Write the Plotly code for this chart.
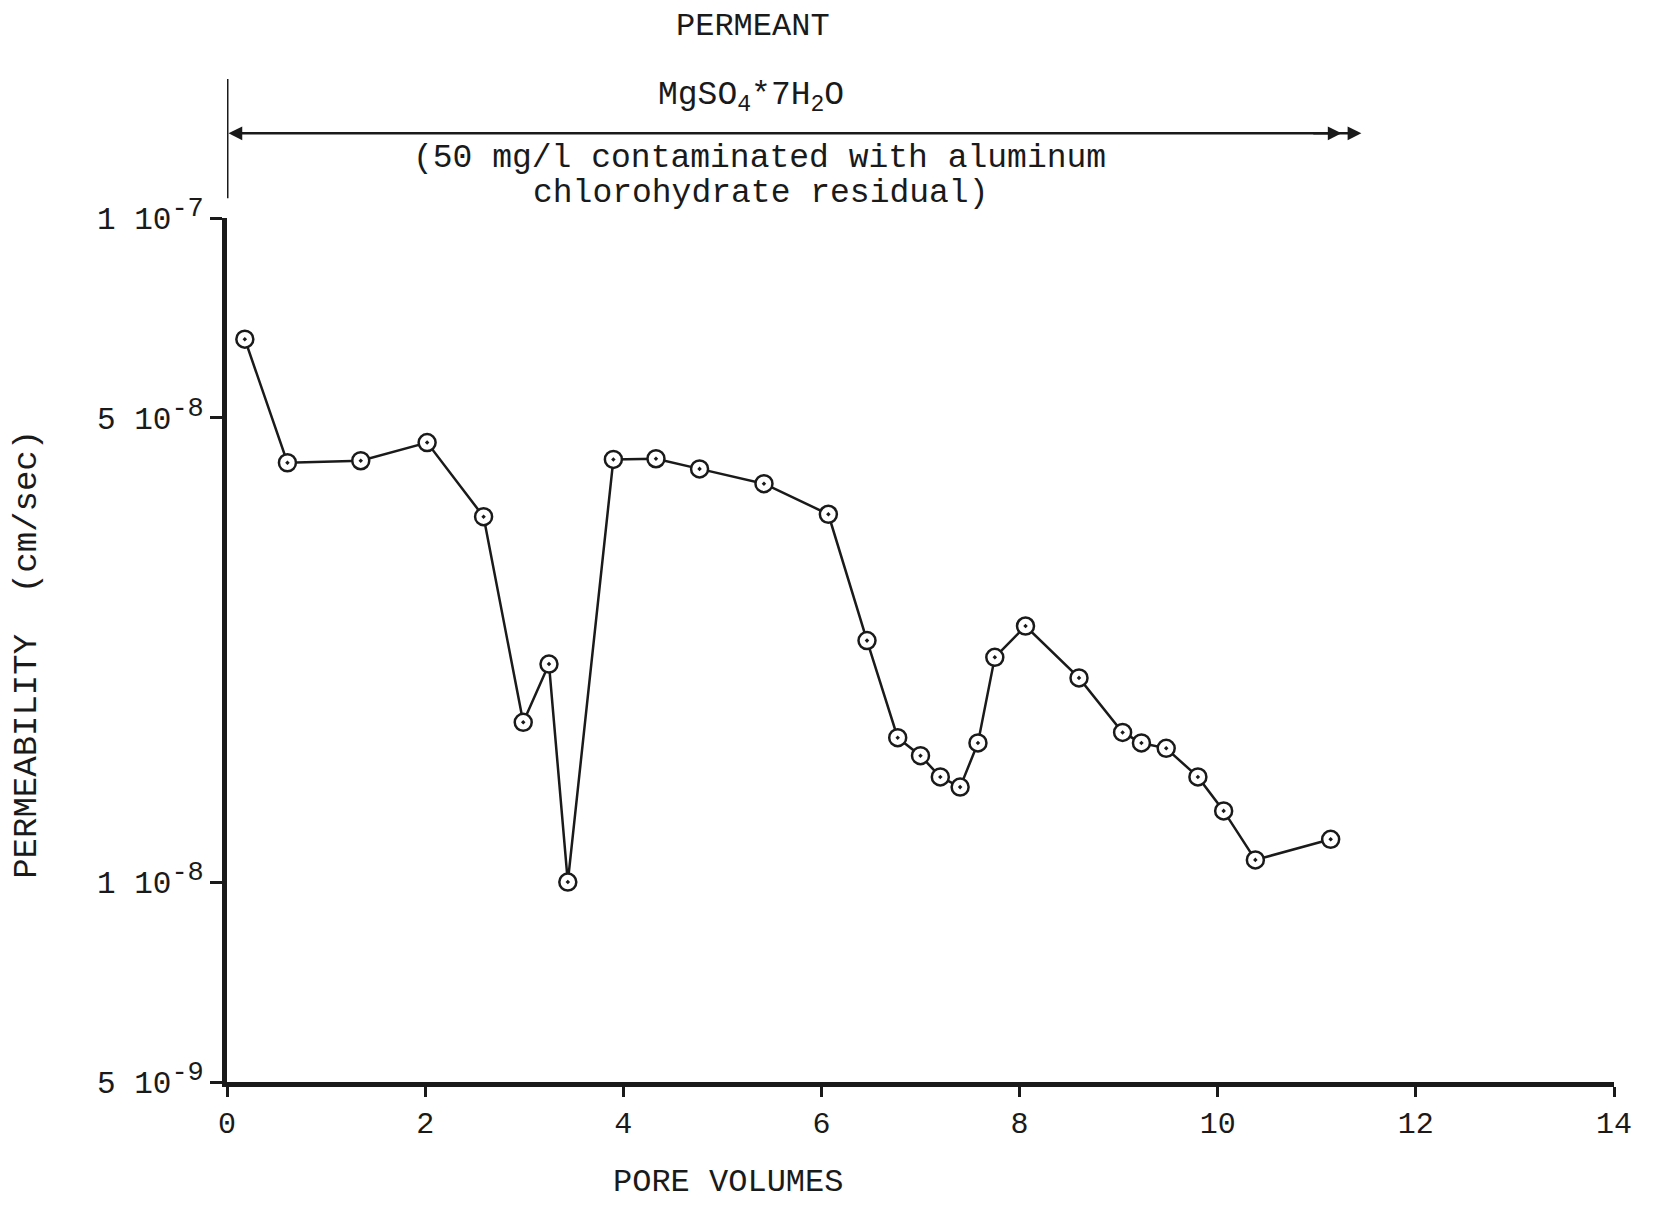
import math
import plotly.graph_objects as go

# ---- data ----
pore_volumes = [0.18, 0.61, 1.35, 2.02, 2.59, 2.99, 3.25, 3.44, 3.90, 4.33, 4.77, 5.42,
                6.07, 6.46, 6.77, 7.00, 7.20, 7.40, 7.58, 7.75, 8.06, 8.60, 9.04, 9.23,
                9.48, 9.80, 10.06, 10.38, 11.14]
permeability = [6.57e-8, 4.28e-8, 4.31e-8, 4.59e-8, 3.55e-8, 1.74e-8, 2.13e-8, 1.00e-8,
                4.33e-8, 4.34e-8, 4.19e-8, 3.98e-8, 3.58e-8, 2.31e-8, 1.65e-8, 1.55e-8,
                1.44e-8, 1.39e-8, 1.62e-8, 2.18e-8, 2.43e-8, 2.03e-8, 1.68e-8, 1.62e-8,
                1.59e-8, 1.44e-8, 1.28e-8, 1.08e-8, 1.16e-8]

x_tick_vals = [0, 2, 4, 6, 8, 10, 12, 14]
y_tick_vals = [5e-9, 1e-8, 5e-8, 1e-7]
y_tick_mantissa = ["5", "1", "5", "1"]
y_tick_exponent = ["-9", "-8", "-8", "-7"]
permeant_start = 0
permeant_end = 11.45

FONT = "Liberation Mono, Courier New, monospace"
INK = "#1a1a1a"

y_tick_text = [f"{m} 10<sup><span style='font-size:27px'>{e}</span></sup>"
               for m, e in zip(y_tick_mantissa, y_tick_exponent)]

fig = go.Figure()
fig.add_trace(go.Scatter(
    x=pore_volumes, y=permeability, mode="lines+markers",
    line=dict(color=INK, width=2.5),
    marker=dict(symbol="circle-dot", size=17, color="white",
                line=dict(color=INK, width=2.5)),
    showlegend=False, cliponaxis=False,
))

fig.update_layout(
    width=1654, height=1205, autosize=False,
    margin=dict(l=227, r=40, t=218, b=123),
    paper_bgcolor="white", plot_bgcolor="white",
    font=dict(family=FONT, color=INK, size=26),
    xaxis=dict(range=[0, 14], tickvals=x_tick_vals, ticktext=[str(v) for v in x_tick_vals],
               showgrid=False, zeroline=False, showline=True, linecolor=INK, linewidth=5,
               ticks="outside", ticklen=10, tickwidth=3, tickcolor=INK,
               tickfont=dict(size=30, family=FONT, color=INK)),
    yaxis=dict(type="log", range=[math.log10(5e-9), math.log10(1e-7)],
               tickvals=y_tick_vals, ticktext=y_tick_text,
               showgrid=False, zeroline=False, showline=True, linecolor=INK, linewidth=5,
               ticks="outside", ticklen=12, tickwidth=3, tickcolor=INK,
               tickfont=dict(size=31, family=FONT, color=INK)),
)

# left bracket line above the axis
fig.add_shape(type="line", xref="x", yref="paper", x0=permeant_start, x1=permeant_start,
              y0=1.023, y1=1.161, line=dict(color=INK, width=3))

# double-ended arrow
fig.add_annotation(xref="x", yref="paper", axref="x", ayref="pixel",
                   x=permeant_end, y=1.098, ax=permeant_start, ay=0,
                   showarrow=True, arrowhead=2, startarrowhead=2, arrowside="end+start",
                   arrowsize=1.1, arrowwidth=2.5, arrowcolor=INK, text="")
fig.add_annotation(xref="x", yref="paper", axref="x", ayref="pixel",
                   x=permeant_end - 0.2, y=1.098, ax=permeant_end - 0.5, ay=0,
                   showarrow=True, arrowhead=2, arrowsize=1.1, arrowwidth=2.5,
                   arrowcolor=INK, text="")

fig.add_annotation(xref="paper", yref="paper", x=0.379, y=1.245, text="PERMEANT",
                   showarrow=False, font=dict(size=32, family=FONT, color=INK))
fig.add_annotation(xref="paper", yref="paper", x=0.378, y=1.166,
                   text="MgSO<sub>4</sub>*7H<sub>2</sub>O",
                   showarrow=False, font=dict(size=33, family=FONT, color=INK))
fig.add_annotation(xref="paper", yref="paper", x=0.384, y=1.093,
                   text="(50 mg/l contaminated with aluminum",
                   showarrow=False, font=dict(size=33, family=FONT, color=INK))
fig.add_annotation(xref="paper", yref="paper", x=0.385, y=1.052,
                   text="chlorohydrate residual)",
                   showarrow=False, font=dict(size=33, family=FONT, color=INK))

# axis titles
fig.add_annotation(xref="paper", yref="paper", x=0.361, y=-0.140, text="PORE VOLUMES",
                   showarrow=False, font=dict(size=32, family=FONT, color=INK))
fig.add_annotation(xref="paper", yref="paper", x=-0.159, y=0.495,
                   text="PERMEABILITY  (cm/sec)", textangle=-90,
                   showarrow=False, font=dict(size=34, family=FONT, color=INK))

fig.write_html("out.html")
